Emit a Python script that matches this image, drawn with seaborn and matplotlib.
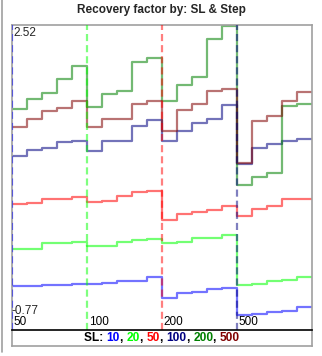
import numpy as np
import pandas as pd
import matplotlib
matplotlib.use("Agg")
import matplotlib.pyplot as plt
import seaborn as sns
from matplotlib.lines import Line2D

sns.set_style("white")
plt.rcParams['font.family'] = ['Liberation Sans', 'DejaVu Sans']

steps = [50, 100, 200, 500]
sl_levels = ["10", "20", "50", "100", "200", "500"]
sl_colors = ["#0000ff", "#00ff00", "#ff0000", "#000080", "#008000", "#800000"]

sl_10 = [-0.440, -0.440, -0.428, -0.428, -0.417,
         -0.424, -0.405, -0.383, -0.383, -0.344,
         -0.576, -0.519, -0.508, -0.481, -0.462,
         -0.770, -0.759, -0.736, -0.724, -0.686]
sl_20 = [-0.018, -0.018, 0.044, 0.044, 0.055,
         0.016, 0.016, 0.062, 0.081, 0.096,
         0.050, 0.062, 0.101, 0.107, 0.142,
         -0.432, -0.420, -0.383, -0.371, -0.337]
sl_50 = [0.492, 0.503, 0.548, 0.548, 0.575,
         0.518, 0.526, 0.586, 0.625, 0.643,
         0.309, 0.381, 0.404, 0.427, 0.472,
         0.358, 0.435, 0.472, 0.548, 0.548]
sl_100 = [1.042, 1.107, 1.133, 1.201, 1.213,
          1.099, 1.213, 1.213, 1.384, 1.445,
          1.213, 1.327, 1.418, 1.464, 1.623,
          0.947, 1.133, 1.179, 1.213, 1.236]
sl_200 = [1.571, 1.692, 1.760, 1.916, 2.068,
          1.600, 1.745, 1.783, 2.110, 2.159,
          1.669, 1.848, 1.939, 2.375, 2.520,
          0.711, 0.803, 0.848, 1.612, 1.635]
sl_500 = [1.372, 1.457, 1.555, 1.586, 1.662,
          1.372, 1.464, 1.464, 1.631, 1.669,
          1.327, 1.566, 1.635, 1.783, 1.805,
          0.955, 1.441, 1.494, 1.662, 1.764]

series = [sl_10, sl_20, sl_50, sl_100, sl_200, sl_500]
n = len(sl_10)
rows = []
for lvl, vals in zip(sl_levels, series):
    ext = list(vals) + [vals[-1]]
    for i, v in enumerate(ext):
        rows.append({"x": i, "value": v, "SL": lvl})
df = pd.DataFrame(rows)

W, H = 322, 356
fig = plt.figure(figsize=(W / 100, H / 100), dpi=100)
ax = fig.add_axes([12 / W, 1 - 330 / H, 300 / W, 305 / H])

sns.lineplot(data=df, x="x", y="value", hue="SL", hue_order=sl_levels,
             palette=dict(zip(sl_levels, sl_colors)), drawstyle="steps-post",
             linewidth=1.6, alpha=0.55, legend=False, ax=ax, estimator=None)

ymax = max(max(s) for s in series)
ymin = min(min(s) for s in series)
k = (ymax - ymin) / 288.7
ax.set_xlim(0, n)
ax.set_ylim(ymax - 304 * k, ymax + 1 * k)

per = n // len(steps)
for j, st in enumerate(steps):
    ax.axvline(j * per, color=sl_colors[j], alpha=0.5, linewidth=1.6,
               linestyle=(0, (3.2, 1.8)), zorder=5)
    ax.text(j * per + 0.12, 0.026, str(st), transform=ax.get_xaxis_transform(),
            fontsize=8.5, va='center', ha='left', color='black', zorder=6)

ax.text(0.005, 0.995, f"{ymax:.2f}", transform=ax.transAxes, fontsize=8.5,
        va='top', ha='left', zorder=6)
ax.text(0.0, 0.062, f"{ymin:.2f}", transform=ax.transAxes, fontsize=8.5,
        va='center', ha='left', zorder=6)

ax.set_xticks([])
ax.set_yticks([])
ax.set_xlabel("")
ax.set_ylabel("")
for sp in ax.spines.values():
    sp.set_color("#a0a0a0")
    sp.set_linewidth(1.2)
ax.spines['bottom'].set_visible(False)

# legend strip
lax = fig.add_axes([12 / W, 1 - 346 / H, 300 / W, 16 / H])
lax.set_xticks([])
lax.set_yticks([])
for sp in lax.spines.values():
    sp.set_color("#a0a0a0")
    sp.set_linewidth(1.2)
lax.spines['top'].set_color("black")
lax.spines['top'].set_linewidth(1.2)

parts = [("SL: ", "black")]
for i, (lvl, c) in enumerate(zip(sl_levels, sl_colors)):
    parts.append((lvl, c))
    if i < len(sl_levels) - 1:
        parts.append((", ", "black"))

first = lax.text(0, 0.5, parts[0][0], color=parts[0][1], fontsize=8.6,
                 fontweight='bold', va='center', ha='left', transform=lax.transAxes)
prev = first
texts = [first]
for s, c in parts[1:]:
    t = lax.annotate(s, xy=(1, 0), xycoords=prev, va='bottom', ha='left',
                     color=c, fontsize=8.6, fontweight='bold')
    texts.append(t)
    prev = t
fig.canvas.draw()
r = fig.canvas.get_renderer()
x0 = texts[0].get_window_extent(r).x0
x1 = texts[-1].get_window_extent(r).x1
wpx = x1 - x0
lax_bb = lax.get_window_extent(r)
cx = 162
first.set_position(((cx - wpx / 2 - lax_bb.x0) / lax_bb.width, 0.5))

fig.text(0.5, 1 - 10 / H, "Recovery factor by: SL & Step", ha='center', va='center',
         fontsize=8.5, fontweight='bold')

fig.add_artist(Line2D([1.5 / W, 1.5 / W], [1 - 352 / H, 1], color="#a0a0a0",
                      linewidth=1.2))

fig.savefig("out.png", dpi=100)
